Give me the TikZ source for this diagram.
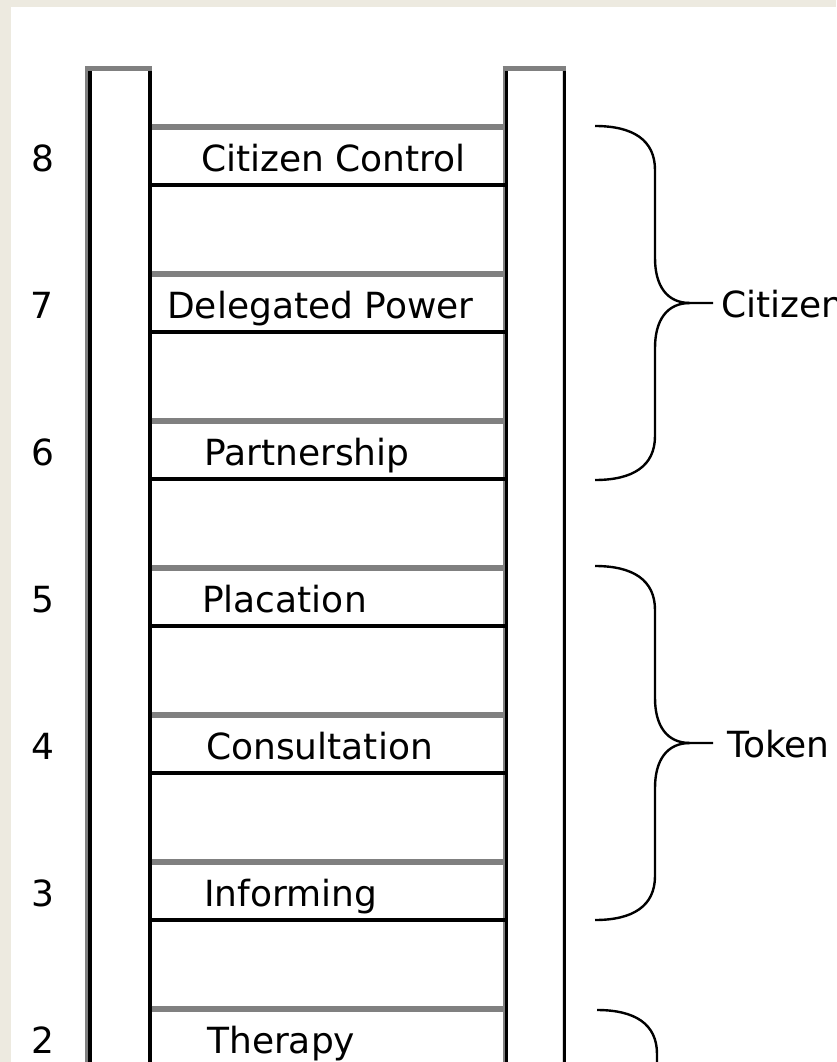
\documentclass[tikz,border=0pt]{standalone}
\usepackage{fontspec}
\setmainfont{DejaVu Sans}
\definecolor{beige}{HTML}{EDEAE0}
\definecolor{railgray}{HTML}{808080}
\begin{document}
\begin{tikzpicture}[x=1pt,y=-1pt,
  rail/.style={line width=3.5pt,black},
  railshade/.style={line width=3pt,railgray},
  railcap/.style={line width=5pt,railgray},
  toprung/.style={line width=5.5pt,railgray},
  botrung/.style={line width=4.5pt,black},
  lbl/.style={inner sep=0pt,anchor=base west,font=\fontsize{36}{40}\selectfont},
  num/.style={inner sep=0pt,anchor=base,font=\fontsize{36}{40}\selectfont},
  bracestyle/.style={line width=2.4pt,black},
  bracepic/.pic={
    \draw[bracestyle] (0,0) .. controls (38,0) and (60,14) .. (60,44) -- (60,132)
      .. controls (60,160) and (72,177) .. (95,177) -- (118,177);
    \draw[bracestyle] (95,177) .. controls (72,177) and (60,194) .. (60,222) -- (60,310)
      .. controls (60,340) and (38,354) .. (0,354);
  }]
\useasboundingbox (0,0) rectangle (836,1062);
\fill[beige] (0,0) rectangle (836,1062);
\fill[white] (11,7) rectangle (836,1062);
\clip (0,0) rectangle (836,1062);
% rails
\draw[railshade] (86.5,70) -- (86.5,1070);
\draw[rail] (89.8,70) -- (89.8,1070);
\draw[rail] (150,70) -- (150,1070);
\draw[railcap] (85,68.5) -- (151.5,68.5);
\draw[railshade,line width=2.5pt] (503.8,70) -- (503.8,1070);
\draw[rail] (506.5,70) -- (506.5,1070);
\draw[line width=1pt,black!15] (562,70) -- (562,1070);
\draw[rail] (564.5,70) -- (564.5,1070);
\draw[railcap] (502.5,68.5) -- (566,68.5);
% rungs
\foreach \yg in {127,274,421,568,715,862,1009} {
  \draw[toprung] (151.5,\yg) -- (505,\yg);
}
\foreach \yb in {185,332,479,626,773,920} {
  \draw[botrung] (151.5,\yb) -- (505,\yb);
}
% rung labels
\node[lbl] (r8) at (201,171) {Citizen Control};
\node[lbl] (r7) at (167,318) {Delegated Power};
\node[lbl] (r6) at (204,465) {Partnership};
\node[lbl] (r5) at (202,612) {Placation};
\node[lbl] (r4) at (206,759) {Consultation};
\node[lbl] (r3) at (204,906) {Informing};
\node[lbl] (r2) at (207,1053) {Therapy};
% numbers
\node[num] (n8) at (43,171) {8};
\node[num] (n7) at (42,318) {7};
\node[num] (n6) at (43,465) {6};
\node[num] (n5) at (43,612) {5};
\node[num] (n4) at (43,759) {4};
\node[num] (n3) at (43,906) {3};
\node[num] (n2) at (43,1053) {2};
% braces
\pic at (595,126) {bracepic};
\pic at (595,566) {bracepic};
\pic at (597,1010) {bracepic};
\node[lbl] (citizen) at (721,317) {Citizen};
\node[lbl] (token) at (727,757) {Token};
\end{tikzpicture}
\end{document}
